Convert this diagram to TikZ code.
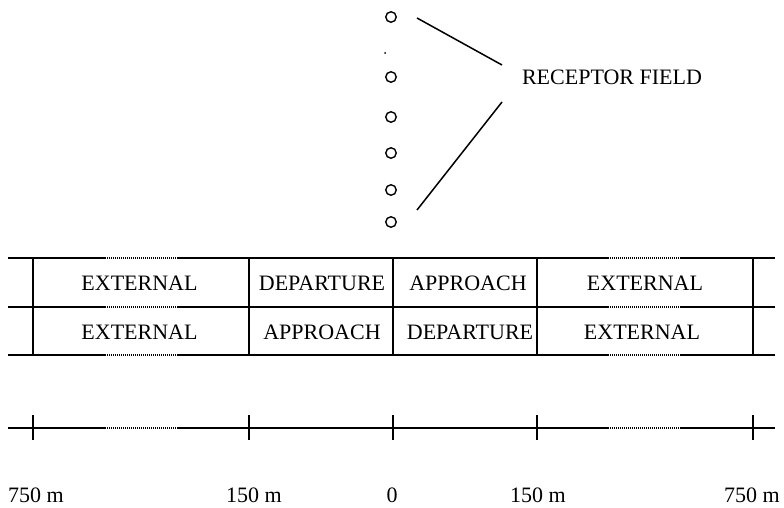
\documentclass[tikz,border=0pt]{standalone}
\usepackage{fontspec}
\setmainfont{Liberation Serif}
\begin{document}
\begin{tikzpicture}[x=1pt,y=-1pt,
  lbl/.style={anchor=base,inner sep=0pt,font=\fontsize{22}{26}\selectfont},
  rec/.style={circle,draw,line width=1.4pt,minimum size=10.5pt,inner sep=0pt},
  thick line/.style={line width=2pt},
  dotseg/.style={line width=1.3pt,dash pattern=on 1pt off 1pt},
  conn/.style={line width=1.5pt}]
\useasboundingbox (0,0) rectangle (784,508);
% receptor field
\node[rec] (r1) at (391,17) {};
\node[rec] (r2) at (391,77) {};
\node[rec] (r3) at (391,117) {};
\node[rec] (r4) at (391,153) {};
\node[rec] (r5) at (391,190) {};
\node[rec] (r6) at (391,222) {};
\fill (385,53) circle (1pt);
\node[lbl] (rf) at (612,85) {RECEPTOR FIELD};
\coordinate (ra) at (502,65);
\coordinate (rb) at (502,102);
\coordinate (ta) at (417,18);
\coordinate (tb) at (417,210);
\draw[conn] (ta) -- (ra);
\draw[conn] (rb) -- (tb);
% table horizontal lines
\foreach \y in {258,307,355}{
  \draw[thick line] (8,\y) -- (105,\y);
  \draw[dotseg] (105,\y) -- (178,\y);
  \draw[thick line] (178,\y) -- (608,\y);
  \draw[dotseg] (608,\y) -- (680,\y);
  \draw[thick line] (680,\y) -- (775,\y);
}
\foreach \x in {33,249,393,537,753}{
  \draw[thick line] (\x,258) -- (\x,355);
}
% table texts
\node[lbl] (e1) at (139.5,290) {EXTERNAL};
\node[lbl] (d1) at (322,290) {DEPARTURE};
\node[lbl] (a1) at (468,290) {APPROACH};
\node[lbl] (e2) at (645,290) {EXTERNAL};
\node[lbl] (e3) at (139.5,339) {EXTERNAL};
\node[lbl] (a2) at (322,339) {APPROACH};
\node[lbl] (d2) at (470,339) {DEPARTURE};
\node[lbl] (e4) at (642,339) {EXTERNAL};
% scale
\draw[thick line] (8,428) -- (105,428);
\draw[dotseg] (105,428) -- (178,428);
\draw[thick line] (178,428) -- (608,428);
\draw[dotseg] (608,428) -- (680,428);
\draw[thick line] (680,428) -- (775,428);
\foreach \x in {33,249,393,537,753}{
  \draw[thick line] (\x,415) -- (\x,440);
}
\node[lbl] (s1) at (36,502) {750 m};
\node[lbl] (s2) at (254,502) {150 m};
\node[lbl] (s3) at (392,502) {0};
\node[lbl] (s4) at (538,502) {150 m};
\node[lbl] (s5) at (752,502) {750 m};
\end{tikzpicture}
\end{document}
